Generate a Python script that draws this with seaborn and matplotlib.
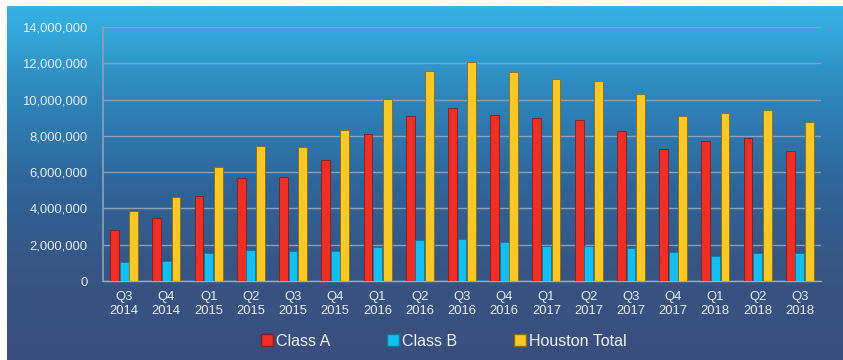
import numpy as np
import pandas as pd
import matplotlib
matplotlib.use("Agg")
import matplotlib.pyplot as plt
import seaborn as sns
from matplotlib.colors import LinearSegmentedColormap
from matplotlib.ticker import FuncFormatter

quarters = ["Q3\n2014", "Q4\n2014", "Q1\n2015", "Q2\n2015", "Q3\n2015", "Q4\n2015",
            "Q1\n2016", "Q2\n2016", "Q3\n2016", "Q4\n2016", "Q1\n2017", "Q2\n2017",
            "Q3\n2017", "Q4\n2017", "Q1\n2018", "Q2\n2018", "Q3\n2018"]
class_a = [2810000, 3490000, 4700000, 5700000, 5710000, 6650000, 8080000, 9100000, 9550000,
           9150000, 9000000, 8890000, 8290000, 7300000, 7720000, 7900000, 7170000]
class_b = [1050000, 1100000, 1540000, 1710000, 1650000, 1650000, 1870000, 2260000, 2320000,
           2150000, 1930000, 1930000, 1840000, 1600000, 1380000, 1530000, 1560000]
houston_total = [3880000, 4630000, 6280000, 7420000, 7390000, 8320000, 10020000, 11560000,
                 12090000, 11520000, 11120000, 11000000, 10310000, 9110000, 9280000, 9430000, 8780000]
series_names = ["Class A", "Class B", "Houston Total"]

df = pd.DataFrame({
    "quarter": quarters * 3,
    "value": class_a + class_b + houston_total,
    "series": [series_names[0]] * len(quarters) + [series_names[1]] * len(quarters)
              + [series_names[2]] * len(quarters),
})

sns.set_theme(style="white")
plt.rcParams["font.family"] = ["Liberation Sans", "DejaVu Sans"]

fig = plt.figure(figsize=(8.43, 3.6), dpi=100, facecolor="white")

# gradient background panel
bg = fig.add_axes([7 / 843, 0, 1 - 7 / 843, 354 / 360])
bg.set_axis_off()
cmap = LinearSegmentedColormap.from_list("bg", ["#36b4e4", "#2d86bd", "#2f6599", "#365483", "#3b4e7e"])
grad = np.linspace(0, 1, 256).reshape(-1, 1)
bg.imshow(grad, aspect="auto", cmap=cmap, extent=[0, 1, 0, 1], origin="upper")
bg.set_zorder(0)

ax = fig.add_axes([103 / 843, 79 / 360, (821 - 103) / 843, (281 - 27) / 360])
ax.set_zorder(1)
ax.set_facecolor("none")

colors = {"Class A": "#ee2f25", "Class B": "#12bff0", "Houston Total": "#fbc927"}
edges = {"Class A": "#8a1a14", "Class B": "#0a7aa0", "Houston Total": "#8c6a10"}

sns.barplot(data=df, x="quarter", y="value", hue="series", palette=colors,
            width=0.68, gap=0.08, ax=ax, legend=False, saturation=1)

for cont, name in zip(ax.containers, series_names):
    for p in cont:
        p.set_edgecolor(edges[name])
        p.set_linewidth(0.6)
        p.set_zorder(3)

ax.set_ylim(0, 14000000)
ax.set_yticks(np.arange(0, 14000001, 2000000))
ax.yaxis.set_major_formatter(FuncFormatter(lambda v, p: f"{int(v):,}"))
ax.set_xlim(-0.5, len(quarters) - 0.5)
ax.grid(axis="y", color="#8b9fb5", linewidth=1.0, zorder=0)
ax.set_axisbelow(True)
ax.set_xlabel("")
ax.set_ylabel("")
for s in ["top", "right"]:
    ax.spines[s].set_visible(False)
ax.spines["left"].set_color("#8b9fb5")
ax.spines["bottom"].set_color("#9aaabb")
ax.spines["bottom"].set_linewidth(1.0)
ax.tick_params(axis="y", colors="#e8eef4", labelsize=9.4, length=0, pad=11)
ax.tick_params(axis="x", colors="#9aaabb", labelcolor="#e8eef4", labelsize=9.4,
               length=4, direction="inout", pad=5)

handles = [plt.Line2D([0], [0], marker="s", linestyle="", markersize=8,
                      markerfacecolor=colors[n], markeredgecolor=edges[n]) for n in series_names]
fig.legend(handles, series_names, loc="center", bbox_to_anchor=(0.525, 0.052), ncol=3,
           frameon=False, fontsize=11.5, labelcolor="#eef2f6", handletextpad=0.0,
           columnspacing=3.4, handlelength=1.1)

fig.savefig("out.png", dpi=100, facecolor="white")
